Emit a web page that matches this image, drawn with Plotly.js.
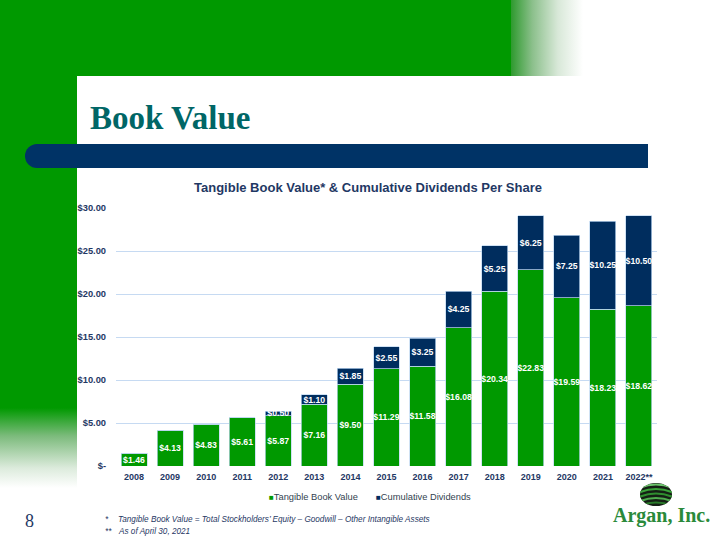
<!DOCTYPE html>
<html><head><meta charset="utf-8">
<script src="https://cdn.plot.ly/plotly-3.0.1.min.js"></script>
<style>
html,body{margin:0;padding:0;background:#fff;}
#wrap{position:relative;width:720px;height:540px;overflow:hidden;background:#fff;}
.abs{position:absolute;}
#chart{position:absolute;left:0;top:0;width:720px;height:540px;}
</style></head><body>
<div id="wrap">
 <div class="abs" style="left:0;top:0;width:511px;height:76px;background:#009900"></div>
 <div class="abs" style="left:511px;top:0;width:72px;height:76px;background:linear-gradient(to right,#2e9a2e,#8cc08c 30%,#d8e8d8 65%,#ffffff)"></div>
 <div class="abs" style="left:0;top:76px;width:77px;height:332px;background:#009900"></div>
 <div class="abs" style="left:0;top:408px;width:77px;height:80px;background:linear-gradient(to bottom,#009900,#7cbb7c 35%,#dcebdc 75%,#ffffff)"></div>
 <div class="abs" style="left:25px;top:144px;width:623px;height:24px;background:#003366;border-radius:12px 0 0 12px"></div>
 <svg class="abs" style="left:639px;top:482px" width="34" height="25" viewBox="0 0 34 25">
  <defs>
   <clipPath id="cp"><ellipse cx="17" cy="12.5" rx="16" ry="11.5"/></clipPath>
  </defs>
  <ellipse cx="17" cy="12.5" rx="16" ry="11.5" fill="#152015"/>
  <g clip-path="url(#cp)" fill="none" stroke-linecap="round">
   <path d="M0 6 Q17 -1 34 6" stroke="#6cc36c" stroke-width="2.2"/>
   <path d="M0 10.5 Q17 3.5 34 10.5" stroke="#3aa33a" stroke-width="2.2"/>
   <path d="M0 15 Q17 8 34 15" stroke="#2f8f2f" stroke-width="2.2"/>
   <path d="M0 19.5 Q17 12.5 34 19.5" stroke="#4fae4f" stroke-width="2.2"/>
   <path d="M0 24 Q17 17 34 24" stroke="#2a7a2a" stroke-width="2.2"/>
  </g>
 </svg>
 <div id="chart"></div>
</div>
<script>
// ---- data ----
var years = ['2008','2009','2010','2011','2012','2013','2014','2015','2016','2017','2018','2019','2020','2021','2022**'];
var tangibleBookValue = [1.46, 4.13, 4.83, 5.61, 5.87, 7.16, 9.50, 11.29, 11.58, 16.08, 20.34, 22.83, 19.59, 18.23, 18.62];
var cumulativeDividends = [0, 0, 0, 0, 0.50, 1.10, 1.85, 2.55, 3.25, 4.25, 5.25, 6.25, 7.25, 10.25, 10.50];
var seriesNames = ['Tangible Book Value', 'Cumulative Dividends'];
var yTickVals = [0, 5, 10, 15, 20, 25, 30];
var yTickText = ['$-', '$5.00', '$10.00', '$15.00', '$20.00', '$25.00', '$30.00'];

function money(v){ return v > 0 ? '$' + v.toFixed(2) : ''; }

// plot area in pixels
var L = 116, R = 657, T = 208, B = 466;
function px(x){ return (x - L) / (R - L); }
function py(y){ return (B - y) / (B - T); }

var FONT = 'Liberation Sans, Arial, sans-serif';
var NAVY = '#1F3864';
var GREEN = '#009900';
var DARK = '#002D5E';
var labelFont = {family: FONT, size: 8.7, color: '#ffffff', weight: 'bold'};

var traces = [
 {type:'bar', name:seriesNames[0], x: years, y: tangibleBookValue, showlegend:false,
  text: tangibleBookValue.map(money), textposition:'inside', insidetextanchor:'middle',
  textangle:0, constraintext:'none', textfont: labelFont, insidetextfont: labelFont,
  marker:{color:GREEN, line:{color:'rgba(190,215,240,0.9)', width:0.8}}, hoverinfo:'skip'},
 {type:'bar', name:seriesNames[1], x: years, y: cumulativeDividends, showlegend:false,
  text: cumulativeDividends.map(money), textposition:'inside', insidetextanchor:'middle',
  textangle:0, constraintext:'none', textfont: labelFont, insidetextfont: labelFont,
  marker:{color:DARK, line:{color:'rgba(190,215,240,0.9)', width:0.8}}, hoverinfo:'skip'}
];

var serif = 'Liberation Serif, Times New Roman, serif';
function ann(text, x, y, xanchor, font){
 return {text:text, xref:'paper', yref:'paper', x:px(x), y:py(y), xanchor:xanchor, yanchor:'middle',
   showarrow:false, font:font};
}
var legendText = '<span style="color:' + GREEN + ';font-size:8px">\u25A0</span>' + seriesNames[0] +
  '       <span style="color:' + DARK + ';font-size:8px">\u25A0</span>' + seriesNames[1];

var layout = {
 width:720, height:540,
 margin:{l:L, r:720-R, t:T, b:540-B, pad:0},
 paper_bgcolor:'rgba(0,0,0,0)', plot_bgcolor:'rgba(0,0,0,0)',
 barmode:'stack', bargap:0.28,
 font:{family:FONT, color:NAVY},
 showlegend:false,
 title:{text:'<b>Tangible Book Value* &amp; Cumulative Dividends Per Share</b>',
   font:{family:FONT, size:13, color:NAVY}, x:368/720, xanchor:'center', y:1-187/540, yanchor:'middle'},
 xaxis:{type:'category', showgrid:false, showline:false, zeroline:false, ticks:'', ticklabelstandoff:4,
   tickfont:{family:FONT, size:9, color:NAVY, weight:'bold'}},
 yaxis:{range:[0,30], tickvals:yTickVals, ticktext:yTickText, showgrid:true, gridcolor:'#C6DAF2', gridwidth:1,
   zeroline:false, showline:false, ticks:'', ticklabelstandoff:9,
   tickfont:{family:FONT, size:9.3, color:NAVY, weight:'bold'}},
 annotations:[
  ann(legendText, 370, 497, 'center', {family:FONT, size:9.3, color:'#333F50'}),
  ann('<b>Book Value</b>', 88, 118, 'left', {family:serif, size:33, color:'#006666'}),
  ann('8', 30, 521, 'center', {family:serif, size:18, color:NAVY}),
  ann('<i>*</i>', 103, 519, 'left', {family:FONT, size:8.2, color:NAVY}),
  ann('<i>Tangible Book Value = Total Stockholders\u2019 Equity \u2013 Goodwill \u2013 Other Intangible Assets</i>', 116, 519, 'left', {family:FONT, size:8.2, color:NAVY}),
  ann('<i>**</i>', 103, 531, 'left', {family:FONT, size:8.2, color:NAVY}),
  ann('<i>As of April 30, 2021</i>', 116, 531, 'left', {family:FONT, size:8.2, color:NAVY}),
  ann('<b>Argan, Inc.</b>', 661, 515, 'center', {family:serif, size:20, color:'#2A8A3A'})
 ]
};

Plotly.newPlot('chart', traces, layout, {displayModeBar:false, staticPlot:true});
</script>
</body></html>
